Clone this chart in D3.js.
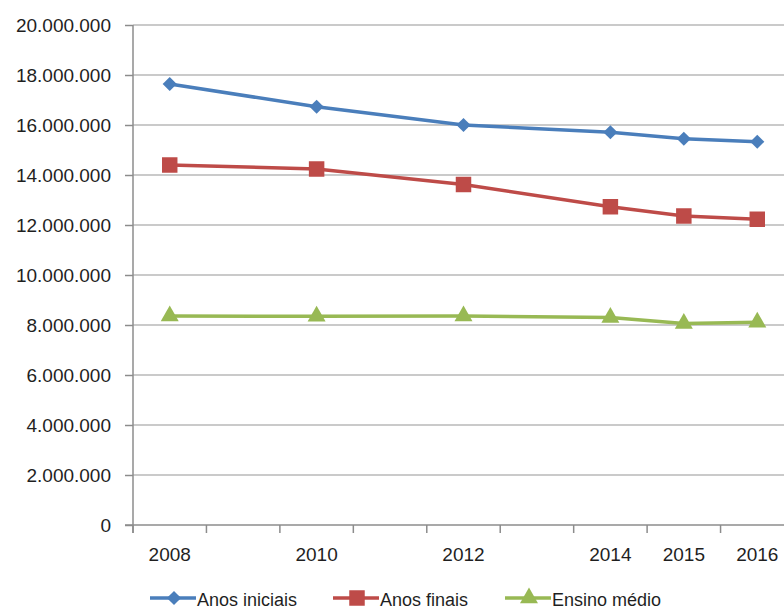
<!DOCTYPE html>
<html>
<head>
<meta charset="utf-8">
<script src="https://cdn.jsdelivr.net/npm/d3@7"></script>
<style>
  body { margin: 0; background: #fff; }
  text { font-family: "Liberation Sans", Arial, sans-serif; fill: #1f1f1f; }
</style>
</head>
<body>
<div id="chart"></div>
<script>
var width = 784;
var height = 610;

// all year slots on the category axis (blank years keep their space)
var years = [2008, 2009, 2010, 2011, 2012, 2013, 2014, 2015, 2016];
var labelYears = [2008, 2010, 2012, 2014, 2015, 2016];
var yTicks = [0, 2000000, 4000000, 6000000, 8000000, 10000000, 12000000, 14000000, 16000000, 18000000, 20000000];

var anosIniciais = [17640000, 16730000, 16000000, 15710000, 15450000, 15330000];
var anosFinais   = [14400000, 14240000, 13620000, 12730000, 12360000, 12230000];
var ensinoMedio  = [8360000, 8350000, 8360000, 8300000, 8060000, 8110000];

var seriesNames = ["Anos iniciais", "Anos finais", "Ensino médio"];
var colors = ["#4a7ebb", "#be4b48", "#98b954"];
var symbols = ["diamond", "square", "triangle"];

var margin = {top: 25, right: -10, bottom: 85, left: 133};

var svg = d3.select("#chart").append("svg")
  .attr("width", width)
  .attr("height", height);

var x = d3.scaleBand()
  .domain(years)
  .range([margin.left, width - margin.right]);

var y = d3.scaleLinear()
  .domain([0, 20000000])
  .range([height - margin.bottom, margin.top]);

var fmt = function(d) {
  return d3.format(",")(d).replace(/,/g, ".");
};

// gridlines
svg.append("g")
  .selectAll("line")
  .data(yTicks.filter(function(d) { return d > 0; }))
  .enter().append("line")
  .attr("x1", margin.left)
  .attr("x2", width)
  .attr("y1", function(d) { return y(d); })
  .attr("y2", function(d) { return y(d); })
  .attr("stroke", "#b8b8b8")
  .attr("stroke-width", 1.5);

// y axis
var yAxis = svg.append("g")
  .attr("transform", "translate(" + margin.left + ",0)")
  .call(d3.axisLeft(y).tickValues(yTicks).tickFormat(fmt).tickSize(8).tickPadding(14));
yAxis.select(".domain").attr("stroke", "#8c8c8c").attr("stroke-width", 1.5)
  .attr("d", "M0," + y(20000000) + "V" + (y(0) + 8));
yAxis.selectAll(".tick line").attr("stroke", "#8c8c8c").attr("stroke-width", 1.5);
yAxis.selectAll(".tick text")
  .style("font-family", "'Liberation Sans', Arial, sans-serif")
  .style("font-size", "19px")
  .attr("fill", "#1f1f1f");

// x axis
var xAxisG = svg.append("g")
  .attr("transform", "translate(0," + y(0) + ")");
xAxisG.append("line")
  .attr("x1", margin.left - 8)
  .attr("x2", width)
  .attr("stroke", "#8c8c8c")
  .attr("stroke-width", 1.5);
xAxisG.selectAll(".xtick")
  .data(years)
  .enter().append("line")
  .attr("class", "xtick")
  .attr("x1", function(d) { return x(d); })
  .attr("x2", function(d) { return x(d); })
  .attr("y1", 0)
  .attr("y2", 8)
  .attr("stroke", "#8c8c8c")
  .attr("stroke-width", 1.5);
xAxisG.selectAll(".xlabel")
  .data(labelYears)
  .enter().append("text")
  .attr("class", "xlabel")
  .attr("x", function(d) { return x(d) + x.bandwidth() / 2; })
  .attr("y", 36)
  .attr("text-anchor", "middle")
  .style("font-size", "19px")
  .text(function(d) { return d; });

var allSeries = [anosIniciais, anosFinais, ensinoMedio];

var line = d3.line()
  .x(function(d, i) { return x(labelYears[i]) + x.bandwidth() / 2; })
  .y(function(d) { return y(d); });

function symbolPath(type) {
  if (type === "diamond") return d3.symbol().type(d3.symbolSquare).size(100)();
  if (type === "square") return d3.symbol().type(d3.symbolSquare).size(240)();
  return d3.symbol().type(d3.symbolTriangle).size(140)();
}
function symbolTransform(type, px, py) {
  if (type === "diamond") return "translate(" + px + "," + py + ") rotate(45)";
  return "translate(" + px + "," + py + ")";
}

allSeries.forEach(function(vals, si) {
  svg.append("path")
    .datum(vals)
    .attr("fill", "none")
    .attr("stroke", colors[si])
    .attr("stroke-width", 3.5)
    .attr("d", line);

  svg.append("g")
    .selectAll("path")
    .data(vals)
    .enter().append("path")
    .attr("d", symbolPath(symbols[si]))
    .attr("transform", function(d, i) {
      return symbolTransform(symbols[si], x(labelYears[i]) + x.bandwidth() / 2, y(d));
    })
    .attr("fill", colors[si]);
});

// legend (pushed to the bottom edge like the reference, kept just inside)
var legendX = [150, 333, 505];
var legend = svg.append("g").attr("transform", "translate(0,598)");
seriesNames.forEach(function(name, si) {
  var g = legend.append("g").attr("transform", "translate(" + legendX[si] + ",0)");
  g.append("line")
    .attr("x1", 0).attr("x2", 46)
    .attr("stroke", colors[si])
    .attr("stroke-width", 3.5);
  g.append("path")
    .attr("d", symbolPath(symbols[si]))
    .attr("transform", symbolTransform(symbols[si], 24, 0))
    .attr("fill", colors[si]);
  g.append("text")
    .attr("x", 47)
    .attr("y", 8)
    .style("font-size", "18px")
    .text(name);
});
</script>
</body>
</html>
